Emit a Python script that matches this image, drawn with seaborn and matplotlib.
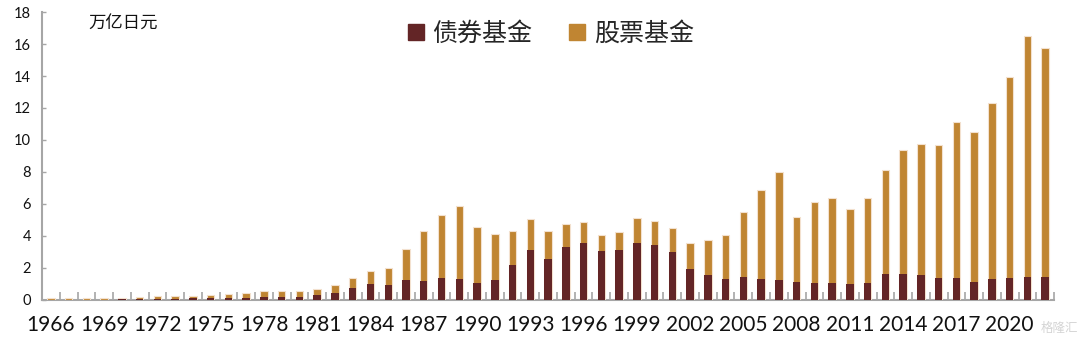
import numpy as np
import pandas as pd
import matplotlib
matplotlib.use("Agg")
import matplotlib.pyplot as plt
from matplotlib.lines import Line2D
from matplotlib.ticker import FixedLocator
import seaborn as sns

# Japanese investment-trust assets, trillion yen
years = list(range(1966, 2023))
bond_fund = [0.03, 0.03, 0.03, 0.03, 0.04, 0.04, 0.05, 0.08, 0.10, 0.12,
             0.15, 0.15, 0.17, 0.17, 0.20, 0.29, 0.44, 0.77, 1.00, 0.94,
             1.25, 1.19, 1.35, 1.29, 1.04, 1.25, 2.19, 3.10, 2.56, 3.31,
             3.56, 3.04, 3.10, 3.54, 3.44, 3.00, 1.94, 1.56, 1.31, 1.44,
             1.29, 1.25, 1.10, 1.06, 1.06, 1.02, 1.06, 1.63, 1.60, 1.56,
             1.35, 1.35, 1.13, 1.29, 1.39, 1.42, 1.42]
stock_fund = [0.09, 0.09, 0.09, 0.10, 0.10, 0.12, 0.18, 0.15, 0.17, 0.21,
              0.23, 0.29, 0.37, 0.41, 0.38, 0.42, 0.50, 0.62, 0.81, 1.04,
              1.94, 3.10, 3.94, 4.56, 3.54, 2.88, 2.12, 1.98, 1.77, 1.46,
              1.29, 1.00, 1.17, 1.59, 1.50, 1.50, 1.64, 2.19, 2.77, 4.08,
              5.59, 6.73, 4.09, 5.09, 5.29, 4.69, 5.34, 6.52, 7.75, 8.21,
              8.32, 9.78, 9.39, 11.02, 12.57, 15.06, 14.33]
series_names = ["债券基金", "股票基金"]
unit_label = "万亿日元"
y_ticks = [0, 2, 4, 6, 8, 10, 12, 14, 16, 18]

BOND_COLOR = "#632526"
STOCK_COLOR = "#C08532"
AXIS_GRAY = "#A6A6A6"

df = pd.DataFrame({
    "year": [str(y) for y in years],
    "bond": bond_fund,
    "stock": stock_fund,
})
df["total"] = df["bond"] + df["stock"]

sns.set_theme(style="white")
plt.rcParams["font.family"] = ["Lato", "Noto Sans CJK SC", "DejaVu Sans"]

fig = plt.figure(figsize=(10.8, 3.43), dpi=100)
ax = fig.add_axes([0.0389, 0.1254, 0.976 - 0.0389, 0.965 - 0.1254])

# stacked bars: full height in gold, bond share drawn over it
sns.barplot(data=df, x="year", y="total", color=STOCK_COLOR, width=0.42,
            saturation=1, edgecolor="#F3E1CF", linewidth=0.8, ax=ax)
sns.barplot(data=df, x="year", y="bond", color=BOND_COLOR, width=0.42,
            saturation=1, edgecolor="none", linewidth=0, ax=ax)
# bars sit on top of the axis line
for i, patch in enumerate(ax.patches):
    patch.set_zorder(3 if i < len(years) else 4)

n = len(years)
ax.set_xlim(-0.5, n - 0.5)
ax.set_ylim(0, 18)
ax.set_xlabel("")
ax.set_ylabel("")

# year labels every third year, tick marks at bar boundaries
label_pos = list(range(0, n, 3))
ax.xaxis.set_major_locator(FixedLocator(label_pos))
ax.set_xticklabels([str(years[i]) for i in label_pos], fontsize=15,
                   color="#111111")
ax.xaxis.set_minor_locator(FixedLocator(np.arange(-0.5, n, 1.0)))
ax.tick_params(axis="x", which="major", length=0, pad=11)
ax.tick_params(axis="x", which="minor", direction="in", length=6,
               width=1.2, color=AXIS_GRAY, bottom=True)

ax.yaxis.set_major_locator(FixedLocator(y_ticks))
ax.set_yticklabels([str(v) for v in y_ticks], fontsize=10.5, color="#111111")
ax.tick_params(axis="y", which="major", direction="in", length=3,
               width=1.0, color=AXIS_GRAY, left=True, pad=8)

for side in ["top", "right"]:
    ax.spines[side].set_visible(False)
for side in ["left", "bottom"]:
    ax.spines[side].set_color(AXIS_GRAY)
    ax.spines[side].set_linewidth(1.5)
ax.grid(False)

ax.text(0.046, 0.958, unit_label, transform=ax.transAxes, fontsize=12.5,
        color="#111111", ha="left", va="center")

handles = [
    Line2D([], [], marker="s", linestyle="none", markersize=11,
           markerfacecolor=BOND_COLOR, markeredgecolor=BOND_COLOR),
    Line2D([], [], marker="s", linestyle="none", markersize=11,
           markerfacecolor=STOCK_COLOR, markeredgecolor=STOCK_COLOR),
]
fig.legend(handles, series_names, loc="center", bbox_to_anchor=(0.508, 0.905),
           ncol=2, frameon=False, fontsize=18, handletextpad=0.15,
           columnspacing=1.3, handlelength=1.0, borderpad=0)

fig.text(0.998, 0.045, "格隆汇", fontsize=9, color="#D0D0D0",
         ha="right", va="center", alpha=0.9)

fig.savefig("out.png", dpi=100, facecolor="white")
